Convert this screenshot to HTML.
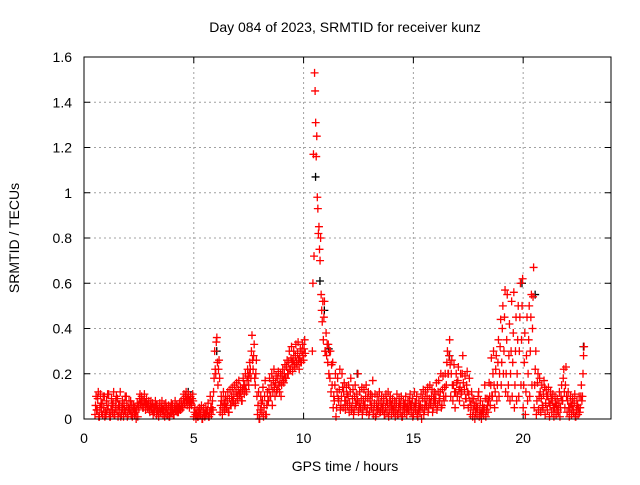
<!DOCTYPE html>
<html><head><meta charset="utf-8"><style>
body{margin:0;background:#fff;}
svg text{font-family:"Liberation Sans",sans-serif;font-size:14px;fill:#000;}
</style></head><body>
<svg id="chart" width="640" height="480" xmlns="http://www.w3.org/2000/svg">
<text x="345" y="32" text-anchor="middle">Day 084 of 2023, SRMTID for receiver kunz</text>
<g id="grid"></g>
<g id="ticks"></g>
<g id="marks"></g>
<rect x="84" y="57" width="527" height="362" fill="none" stroke="#000" stroke-width="1"/>
<text x="345" y="471" text-anchor="middle">GPS time / hours</text>
<text transform="translate(19,238) rotate(-90)" text-anchor="middle">SRMTID / TECUs</text>
</svg>
<script>
const xTicks=[0,5,10,15,20];
const yTicks=[0,0.2,0.4,0.6,0.8,1,1.2,1.4,1.6];
const yTickLabels=["0","0.2","0.4","0.6","0.8","1","1.2","1.4","1.6"];
// each row: [hour, srmtid values...]
const srmtidRows=[
[0.5,0.02,0.06,0.1,0.04],[0.6,0.04,0.09,0.12,0.01],[0.7,0.01,0.05,0.11,0.07],[0.8,0.03,0.07,0.02,0.1],[0.9,0.05,0.1,0.01,0.03],
[1.0,0.02,0.08,0.04,0.11],[1.1,0.06,0.11,0.03,0.01],[1.2,0.01,0.04,0.09,0.06],[1.3,0.03,0.07,0.12,0.02],[1.4,0.02,0.05,0.08,0.1],
[1.5,0.04,0.09,0.01,0.06],[1.6,0.03,0.06,0.12,0.01],[1.7,0.02,0.05,0.08,0.04],[1.8,0.01,0.07,0.04,0.1],[1.9,0.03,0.1,0.06,0.01],
[2.0,0.02,0.05,0.08,0.04],[2.1,0.04,0.08,0.02,0.06],[2.2,0.01,0.03,0.06,0.05],[2.3,0.02,0.05,0.03,0.0],[2.4,0.04,0.07,0.01,0.06],
[2.5,0.05,0.09,0.11,0.07],[2.6,0.06,0.1,0.08,0.05],[2.7,0.05,0.08,0.11,0.07],[2.8,0.04,0.07,0.09,0.06],[2.9,0.05,0.06,0.08,0.04],
[3.0,0.03,0.06,0.08,0.05],[3.1,0.04,0.07,0.02,0.05],[3.2,0.03,0.05,0.08,0.06],[3.3,0.02,0.06,0.04,0.03],[3.4,0.01,0.05,0.07,0.03],
[3.5,0.03,0.05,0.08,0.04],[3.6,0.02,0.04,0.06,0.01],[3.7,0.03,0.07,0.05,0.02],[3.8,0.02,0.04,0.06,0.01],[3.9,0.01,0.05,0.03,0.07],
[4.0,0.03,0.06,0.04,0.02],[4.1,0.02,0.05,0.08,0.04],[4.2,0.04,0.06,0.03,0.05],[4.3,0.03,0.05,0.07,0.04],[4.4,0.04,0.08,0.06,0.05],
[4.5,0.05,0.09,0.11,0.07],[4.6,0.07,0.1,0.12,0.08],[4.7,0.06,0.09,0.11,0.08],[4.8,0.05,0.08,0.1,0.07],[4.9,0.06,0.09,0.11,0.08],
[5.0,0.01,0.03,0.05,0.02],[5.1,0.0,0.02,0.04,0.01],[5.2,0.01,0.03,0.05,0.02],[5.3,0.02,0.04,0.06,0.0],[5.4,0.0,0.03,0.05,0.02],
[5.5,0.01,0.02,0.05,0.03],[5.6,0.02,0.04,0.07,0.01],[5.7,0.01,0.03,0.1,0.05],[5.8,0.02,0.05,0.08,0.04],[5.9,0.12,0.18,0.3,0.22],
[6.0,0.2,0.34,0.36,0.25],[6.1,0.15,0.22,0.26,0.18],[6.2,0.03,0.06,0.1,0.08],[6.3,0.02,0.05,0.12,0.08],[6.4,0.04,0.07,0.1,0.05],
[6.5,0.05,0.08,0.12,0.03],[6.6,0.03,0.09,0.13,0.06],[6.7,0.06,0.1,0.14,0.08],[6.8,0.08,0.11,0.15,0.06],[6.9,0.07,0.12,0.16,0.1],
[7.0,0.09,0.13,0.17,0.11],[7.1,0.1,0.14,0.12,0.08],[7.2,0.08,0.13,0.18,0.15],[7.3,0.11,0.15,0.2,0.13],[7.4,0.12,0.17,0.22,0.19],
[7.5,0.15,0.2,0.25,0.22],[7.6,0.18,0.3,0.37,0.26],[7.7,0.22,0.28,0.33,0.18],[7.8,0.15,0.2,0.26,0.1],[7.9,0.02,0.06,0.12,0.0],
[8.0,0.0,0.04,0.1,0.07],[8.1,0.03,0.08,0.14,0.01],[8.2,0.05,0.1,0.17,0.02],[8.3,0.02,0.06,0.12,0.08],[8.4,0.08,0.13,0.18,0.1],
[8.5,0.1,0.15,0.2,0.06],[8.6,0.12,0.17,0.22,0.14],[8.7,0.1,0.16,0.19,0.12],[8.8,0.13,0.18,0.21,0.15],[8.9,0.12,0.16,0.2,0.1],
[9.0,0.15,0.19,0.22,0.17],[9.1,0.16,0.2,0.24,0.18],[9.2,0.18,0.23,0.26,0.2],[9.3,0.2,0.25,0.3,0.22],[9.4,0.22,0.27,0.32,0.25],
[9.5,0.21,0.26,0.3,0.24],[9.6,0.23,0.28,0.33,0.25],[9.7,0.24,0.29,0.34,0.26],[9.8,0.22,0.27,0.31,0.25],[9.9,0.25,0.3,0.33,0.28],
[10.0,0.26,0.31,0.35,0.29],[10.4,0.3,0.6,1.17,0.72],[10.5,1.53,1.45,1.31,1.16],[10.6,1.25,0.98,0.93,0.82],[10.7,0.85,0.75,0.7,0.8],
[10.8,0.55,0.48,0.43,0.52],[10.9,0.35,0.45,0.52,0.3],[11.0,0.3,0.38,0.28,0.33],[11.1,0.25,0.33,0.2,0.3],[11.2,0.18,0.3,0.12,0.24],
[11.3,0.15,0.25,0.05,0.1],[11.4,0.08,0.15,0.2,0.01],[11.5,0.05,0.12,0.18,0.09],[11.6,0.08,0.13,0.22,0.04],[11.7,0.06,0.1,0.2,0.14],
[11.8,0.05,0.12,0.16,0.08],[11.9,0.04,0.08,0.14,0.11],[12.0,0.06,0.1,0.15,0.03],[12.1,0.07,0.12,0.18,0.04],[12.2,0.05,0.09,0.13,0.02],
[12.3,0.04,0.1,0.15,0.07],[12.4,0.06,0.11,0.08,0.2],[12.5,0.03,0.07,0.12,0.05],[12.6,0.05,0.09,0.14,0.02],[12.7,0.04,0.08,0.13,0.06],
[12.8,0.06,0.1,0.15,0.03],[12.9,0.05,0.09,0.12,0.02],[13.0,0.03,0.08,0.11,0.06],[13.1,0.05,0.1,0.17,0.02],[13.2,0.04,0.07,0.11,0.01],
[13.3,0.02,0.06,0.1,0.04],[13.4,0.05,0.08,0.12,0.03],[13.5,0.03,0.07,0.1,0.05],[13.6,0.04,0.06,0.09,0.02],[13.7,0.02,0.05,0.11,0.08],
[13.8,0.03,0.07,0.12,0.01],[13.9,0.04,0.08,0.1,0.06],[14.0,0.02,0.06,0.09,0.04],[14.1,0.03,0.05,0.08,0.01],[14.2,0.04,0.07,0.11,0.02],
[14.3,0.02,0.05,0.09,0.07],[14.4,0.03,0.06,0.1,0.01],[14.5,0.01,0.04,0.08,0.06],[14.6,0.03,0.07,0.1,0.05],[14.7,0.02,0.05,0.08,0.04],
[14.8,0.04,0.08,0.11,0.06],[14.9,0.03,0.06,0.09,0.01],[15.0,0.02,0.05,0.12,0.07],[15.1,0.04,0.07,0.1,0.02],[15.2,0.01,0.04,0.08,0.05],
[15.3,0.03,0.06,0.11,0.0],[15.4,0.05,0.09,0.13,0.02],[15.5,0.04,0.08,0.12,0.06],[15.6,0.06,0.1,0.14,0.03],[15.7,0.05,0.09,0.15,0.07],
[15.8,0.06,0.1,0.13,0.03],[15.9,0.05,0.09,0.12,0.08],[16.0,0.07,0.11,0.16,0.04],[16.1,0.06,0.12,0.17,0.09],[16.2,0.08,0.12,0.2,0.05],
[16.3,0.06,0.13,0.19,0.1],[16.4,0.08,0.14,0.2,0.1],[16.5,0.15,0.25,0.3,0.2],[16.6,0.2,0.28,0.35,0.24],[16.7,0.1,0.2,0.26,0.15],
[16.8,0.08,0.15,0.24,0.12],[16.9,0.05,0.12,0.2,0.16],[17.0,0.1,0.17,0.23,0.13],[17.1,0.08,0.14,0.2,0.11],[17.2,0.12,0.2,0.28,0.16],
[17.3,0.06,0.13,0.19,0.09],[17.4,0.09,0.15,0.21,0.12],[17.5,0.05,0.11,0.18,0.08],[17.6,0.02,0.06,0.12,0.09],[17.7,0.01,0.04,0.09,0.06],
[17.8,0.0,0.03,0.07,0.05],[17.9,0.02,0.05,0.1,0.12],[18.0,0.01,0.04,0.08,0.02],[18.1,0.0,0.03,0.06,0.04],[18.2,0.02,0.05,0.15,0.09],
[18.3,0.01,0.04,0.09,0.06],[18.4,0.03,0.08,0.16,0.1],[18.5,0.06,0.15,0.27,0.1],[18.6,0.1,0.2,0.3,0.15],[18.7,0.05,0.12,0.22,0.28],
[18.8,0.08,0.15,0.25,0.35],[18.9,0.1,0.2,0.32,0.44],[19.0,0.15,0.25,0.4,0.5],[19.1,0.2,0.3,0.45,0.57],[19.2,0.12,0.2,0.35,0.55],
[19.3,0.1,0.15,0.28,0.42],[19.4,0.08,0.2,0.3,0.52],[19.5,0.1,0.25,0.38,0.56],[19.6,0.05,0.15,0.3,0.45],[19.7,0.08,0.2,0.35,0.5],
[19.8,0.1,0.3,0.45,0.6],[19.9,0.15,0.35,0.5,0.62],[20.0,0.05,0.15,0.25,0.38],[20.1,0.02,0.12,0.28,0.45],[20.2,0.08,0.2,0.35,0.5],
[20.3,0.1,0.3,0.45,0.55],[20.4,0.15,0.4,0.54,0.67],[20.5,0.05,0.15,0.22,0.3],[20.6,0.02,0.08,0.16,0.2],[20.7,0.04,0.1,0.18,0.12],
[20.8,0.03,0.09,0.15,0.06],[20.9,0.05,0.11,0.17,0.14],[21.0,0.02,0.07,0.13,0.1],[21.1,0.04,0.1,0.14,0.07],[21.2,0.01,0.06,0.12,0.09],
[21.3,0.03,0.08,0.11,0.05],[21.4,0.01,0.05,0.1,0.07],[21.5,0.02,0.06,0.09,0.04],[21.6,0.03,0.07,0.12,0.01],[21.7,0.05,0.1,0.15,0.08],
[21.8,0.08,0.18,0.22,0.12],[21.9,0.05,0.15,0.23,0.1],[22.0,0.03,0.08,0.12,0.05],[22.1,0.01,0.05,0.1,0.07],[22.2,0.02,0.06,0.09,0.04],
[22.3,0.03,0.07,0.11,0.01],[22.4,0.01,0.04,0.08,0.06],[22.5,0.02,0.05,0.1,0.03],[22.6,0.05,0.1,0.15,0.08],[22.7,0.1,0.2,0.28,0.32]];
const blackHours=[4.7,6.0,10.5,10.7,10.9,11.1,12.4,16.6,19.9,20.5,22.7];
const blackValues=[0.12,0.3,1.07,0.61,0.48,0.31,0.2,0.28,0.6,0.55,0.32];
const X0=84,X1=611,Y0=419,Y1=57;
function xs(v){return X0+(v/24)*(X1-X0);}
function ys(v){return Y0-(v/1.6)*(Y0-Y1);}
const NS="http://www.w3.org/2000/svg";
const grid=document.getElementById('grid'),ticks=document.getElementById('ticks'),marks=document.getElementById('marks');
function mk(tag,attrs,parent){const e=document.createElementNS(NS,tag);for(const k in attrs)e.setAttribute(k,attrs[k]);parent.appendChild(e);return e;}
xTicks.forEach(function(t,i){
  const x=xs(t);
  if(i>0){const g=mk('line',{x1:x,x2:x,y1:Y1,y2:Y0,stroke:'#a0a0a0','stroke-dasharray':'2,3'},grid);
  
  }
  const l=mk('line',{x1:x,x2:x,y1:Y0,y2:Y0-6,stroke:'#000'},ticks);
  
  
  mk('line',{x1:x,x2:x,y1:Y1,y2:Y1+6,stroke:'#000'},ticks);
  const tx=mk('text',{x:x,y:443,'text-anchor':'middle'},ticks);tx.textContent=String(t);
  
  
});
yTicks.forEach(function(t,i){
  const y=ys(t);
  if(i>0&&i<yTicks.length-1){const g=mk('line',{x1:X0,x2:X1,y1:y,y2:y,stroke:'#a0a0a0','stroke-dasharray':'2,3'},grid);
  
  }
  const l=mk('line',{x1:X0,x2:X0+6,y1:y,y2:y,stroke:'#000'},ticks);
  
  
  mk('line',{x1:X1,x2:X1-6,y1:y,y2:y,stroke:'#000'},ticks);
  const tx=mk('text',{x:72,y:y+5,'text-anchor':'end'},ticks);tx.textContent=yTickLabels[i];
  
  
});
function plus(x,y,color){
  return mk('path',{d:'M'+(x-4)+' '+y+'h8M'+x+' '+(y-4)+'v8',stroke:color,'stroke-width':1.3,fill:'none'},marks);
}
blackHours.forEach(function(h,i){
  const p=plus(xs(h)+1,ys(blackValues[i]),'#000');
  
  
});
srmtidRows.forEach(function(row){
  const h=row[0];
  for(let j=1;j<row.length;j++){
    const p=plus(xs(h+(j-1)*0.025),ys(row[j]),'#ff0000');
    
    
  }
});
</script>
</body></html>
